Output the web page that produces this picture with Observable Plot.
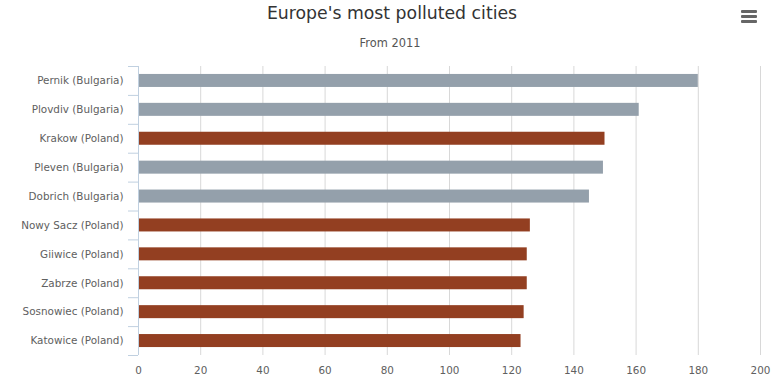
<!DOCTYPE html>
<html><head><meta charset="utf-8">
<script src="https://cdn.jsdelivr.net/npm/d3@7"></script>
<script src="https://cdn.jsdelivr.net/npm/@observablehq/plot@0.6"></script>
<style>
body{margin:0;background:#fff;}
#wrap{position:relative;width:772px;}
.title{font:17.3px "DejaVu Sans",Verdana,sans-serif;color:#333;text-align:center;height:26px;line-height:26px;padding-left:12px;white-space:nowrap;}
.subtitle{font:11.4px "DejaVu Sans",Verdana,sans-serif;color:#555;text-align:center;height:30px;line-height:34px;padding-left:8px;white-space:nowrap;}
.menu{position:absolute;left:741px;top:10px;width:16px;}
.menu span{display:block;height:2.5px;background:#666;margin-bottom:2.7px;border-radius:1px;}
svg{display:block;}
</style></head>
<body>
<div id="wrap">
  <div class="title">Europe's most polluted cities</div>
  <div class="subtitle">From 2011</div>
  <div class="menu"><span></span><span></span><span></span></div>
  <div id="chart"></div>
</div>
<script>
const cities = ["Pernik (Bulgaria)","Plovdiv (Bulgaria)","Krakow (Poland)","Pleven (Bulgaria)","Dobrich (Bulgaria)","Nowy Sacz (Poland)","Giiwice (Poland)","Zabrze (Poland)","Sosnowiec (Poland)","Katowice (Poland)"];
const countries = ["Bulgaria","Bulgaria","Poland","Bulgaria","Bulgaria","Poland","Poland","Poland","Poland","Poland"];
const values = [180, 161, 150, 149.5, 145, 126, 125, 125, 124, 123];
const xTicks = [0,20,40,60,80,100,120,140,160,180,200];
const countryNames = ["Bulgaria","Poland"];
const countryColors = ["#94a0ab","#933f21"];

const data = cities.map((c,i)=>({city:c, country:countries[i], value:values[i]}));

const H = 330, mt = 10, mb = 31;
const step = (H - mt - mb) / cities.length;
const axisColor = "#c0d0e0";

const chart = Plot.plot({
  width: 772, height: H,
  marginTop: mt, marginBottom: mb, marginLeft: 138, marginRight: 12,
  style: {fontFamily: "DejaVu Sans, Verdana, sans-serif", fontSize: "10.4px", color: "#606060", background: "#fff"},
  x: {domain: [0, 200], label: null},
  y: {domain: cities, paddingInner: 0.55, paddingOuter: 0.275, round: false, label: null},
  color: {domain: countryNames, range: countryColors},
  marks: [
    Plot.gridX(xTicks, {stroke: "#d8d8d8", strokeOpacity: 1}),
    Plot.barX(data, {x: "value", y: "city", fill: "country"}),
    Plot.ruleX([0], {stroke: axisColor, strokeWidth: 1}),
    Plot.axisY({tickSize: 0, tickPadding: 15, label: null}),
    Plot.axisY({tickSize: 10, tickPadding: 0, tickFormat: () => "", dy: -step/2, stroke: axisColor, strokeOpacity: 1, label: null}),
    Plot.axisY({ticks: [cities[cities.length-1]], tickSize: 10, tickPadding: 0, tickFormat: () => "", dy: step/2, stroke: axisColor, strokeOpacity: 1, label: null}),
    Plot.axisX({ticks: xTicks, tickSize: 0, tickPadding: 11, label: null})
  ]
});
document.getElementById("chart").appendChild(chart);
</script>
</body></html>
